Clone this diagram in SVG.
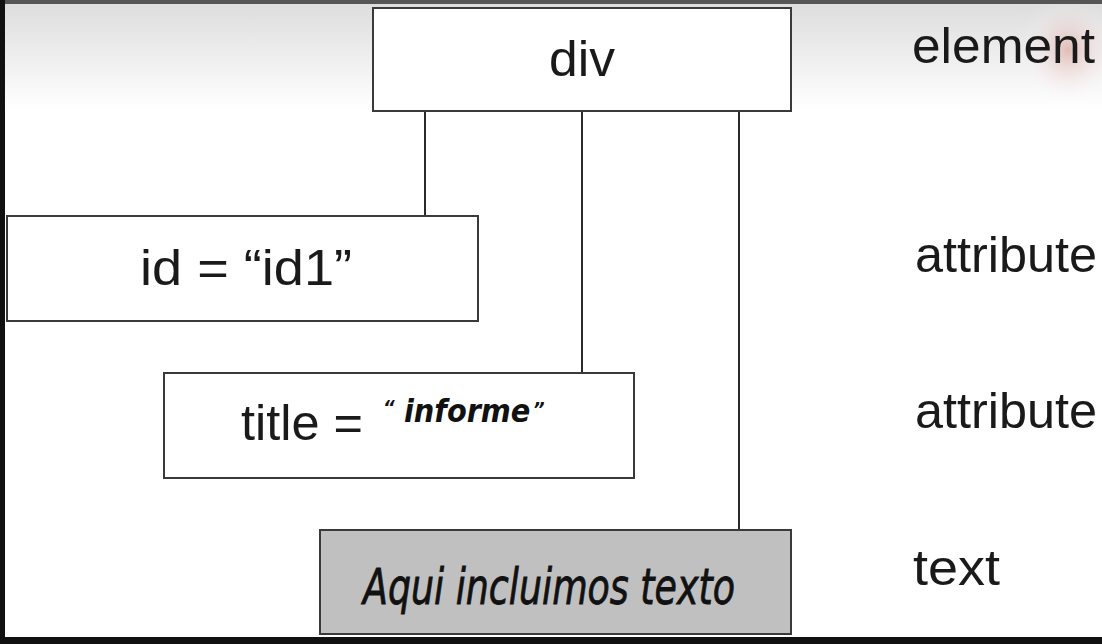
<svg xmlns="http://www.w3.org/2000/svg" width="1102" height="644" viewBox="0 0 1102 644">
<defs>
<linearGradient id="bg" x1="0" y1="0" x2="0" y2="1">
<stop offset="0" stop-color="#dcdcdc"/>
<stop offset="0.17" stop-color="#ffffff"/>
<stop offset="1" stop-color="#ffffff"/>
</linearGradient>
<radialGradient id="blob" cx="0.5" cy="0.5" r="0.5">
<stop offset="0" stop-color="#dca8a0" stop-opacity="0.7"/>
<stop offset="1" stop-color="#ffffff" stop-opacity="0"/>
</radialGradient>
<style>
.box{fill:#ffffff;stroke:#3a3a3a;stroke-width:2}
.gray{fill:#c0c0c0}
.lbl{font-family:"Liberation Sans",Arial,sans-serif;font-size:50px;fill:#1a1a1a}
.it{font-family:"DejaVu Sans Condensed","DejaVu Sans",sans-serif;font-style:italic;fill:#111}
.conn line{stroke:#2a2a2a;stroke-width:2}
</style>
</defs>
<rect x="0" y="0" width="1102" height="644" fill="url(#bg)"/>
<ellipse cx="1068" cy="50" rx="50" ry="55" fill="url(#blob)"/>
<rect x="0" y="0" width="1102" height="4" fill="#555"/>
<rect x="0" y="0" width="5" height="644" fill="#111"/>
<rect x="0" y="637" width="1102" height="7" fill="#111"/>
<g class="conn">
<line x1="425" y1="111" x2="425" y2="216"/>
<line x1="582" y1="111" x2="582" y2="373"/>
<line x1="739" y1="111" x2="739" y2="530"/>
</g>
<g id="div">
<rect class="box" x="373" y="8" width="418" height="103"/>
<text class="lbl" x="549" y="76" textLength="66" lengthAdjust="spacingAndGlyphs">div</text>
</g>
<g id="attr-id">
<rect class="box" x="7" y="216" width="471" height="105"/>
<text class="lbl" x="140" y="285" textLength="212" lengthAdjust="spacingAndGlyphs">id = “id1”</text>
</g>
<g id="attr-title">
<rect class="box" x="164" y="373" width="470" height="105"/>
<text class="lbl" x="241" y="440" textLength="122" lengthAdjust="spacingAndGlyphs">title =</text>
<text class="it" font-weight="bold"><tspan x="383" y="414" font-size="20">“</tspan><tspan x="404" y="422" font-size="32">informe</tspan><tspan x="533" y="416" font-size="20">”</tspan></text>
</g>
<g id="text">
<rect class="box gray" x="320" y="530" width="471" height="104"/>
<text class="it" x="363" y="604" font-size="50" stroke="#111" stroke-width="0.8" textLength="372" lengthAdjust="spacingAndGlyphs">Aqui incluimos texto</text>
</g>
<g id="labels">
<text class="lbl" x="912" y="63" textLength="183" lengthAdjust="spacingAndGlyphs">element</text>
<text class="lbl" x="915" y="272" textLength="182" lengthAdjust="spacingAndGlyphs">attribute</text>
<text class="lbl" x="915" y="428" textLength="182" lengthAdjust="spacingAndGlyphs">attribute</text>
<text class="lbl" x="913" y="585" textLength="87" lengthAdjust="spacingAndGlyphs">text</text>
</g>
</svg>
